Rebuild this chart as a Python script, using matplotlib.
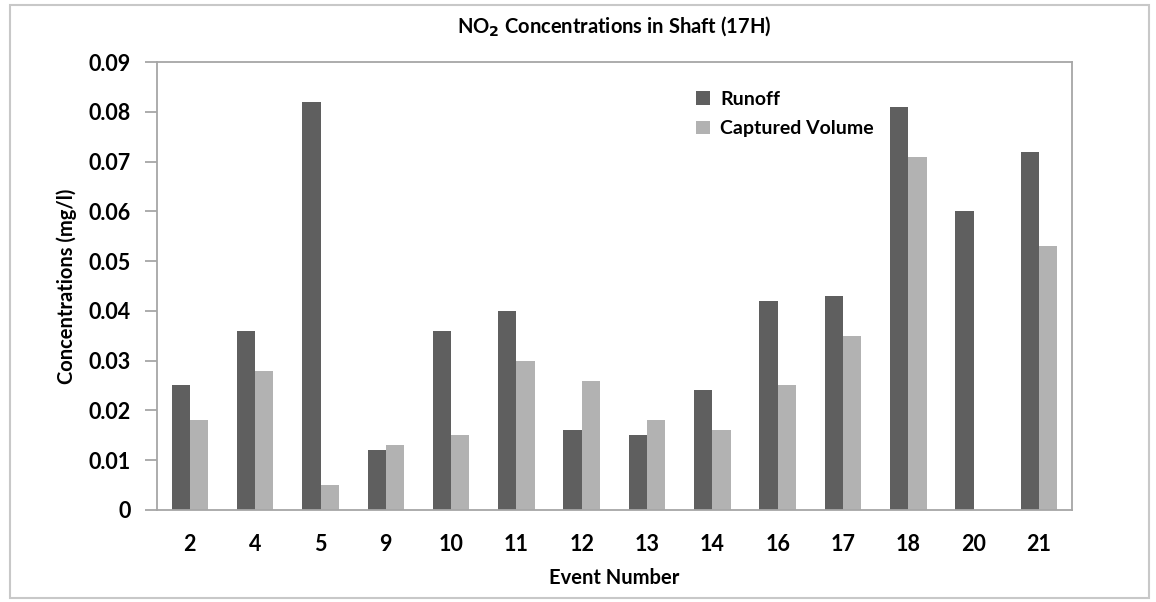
import numpy as np
import matplotlib.pyplot as plt
from matplotlib.patches import Rectangle

# --- data ---
events = ["2", "4", "5", "9", "10", "11", "12", "13", "14", "16", "17", "18", "20", "21"]
runoff = [0.025, 0.036, 0.082, 0.012, 0.036, 0.040, 0.016, 0.015, 0.024, 0.042, 0.043, 0.081, 0.060, 0.072]
captured = [0.018, 0.028, 0.005, 0.013, 0.015, 0.030, 0.026, 0.018, 0.016, 0.025, 0.035, 0.071, 0.0, 0.053]

plt.rcParams["font.family"] = ["Lato", "DejaVu Sans"]
plt.rcParams["font.weight"] = "bold"

fig = plt.figure(figsize=(11.56, 6.02), dpi=100)
ax = fig.add_axes([0.136, 0.153, 0.791, 0.744])

# light frame round the whole chart
fig.patches.append(Rectangle((0.009, 0.007), 0.985, 0.985, transform=fig.transFigure,
                             fill=False, edgecolor="#c8c8c8", linewidth=1.5))

x = np.arange(len(events))
w = 0.28
ax.bar(x - w / 2, runoff, w, color="#5f5f5f", label="Runoff")
ax.bar(x + w / 2, captured, w, color="#b2b2b2", label="Captured Volume")

ax.set_xlim(-0.5, len(events) - 0.5)
ax.set_ylim(0, 0.09)
ax.set_yticks(np.arange(0, 0.091, 0.01))
ax.set_yticklabels(["0"] + [f"{v:.2f}" for v in np.arange(0.01, 0.091, 0.01)])
ax.set_xticks(x)
ax.set_xticklabels(events)

for s in ax.spines.values():
    s.set_color("#a6a6a6")
    s.set_linewidth(1.3)

ax.tick_params(axis="y", length=9, color="#a6a6a6", width=1.3, labelsize=15.5, pad=10)
ax.tick_params(axis="x", length=0, labelsize=15.5, pad=17)

ax.set_xlabel("Event Number", fontsize=14.5, fontweight="bold", labelpad=10)
ax.set_ylabel("Concentrations (mg/l)", fontsize=14.5, fontweight="bold", labelpad=8)
ax.set_title(r"NO$_\mathbf{2}$ Concentrations in Shaft (17H)", fontsize=14.5,
             fontweight="bold", pad=21)

ax.legend(loc="upper left", bbox_to_anchor=(0.57, 0.975), frameon=False, fontsize=14,
          handlelength=0.7, handleheight=0.7, handletextpad=0.55, labelspacing=0.65)

fig.savefig("out.png", dpi=100)
